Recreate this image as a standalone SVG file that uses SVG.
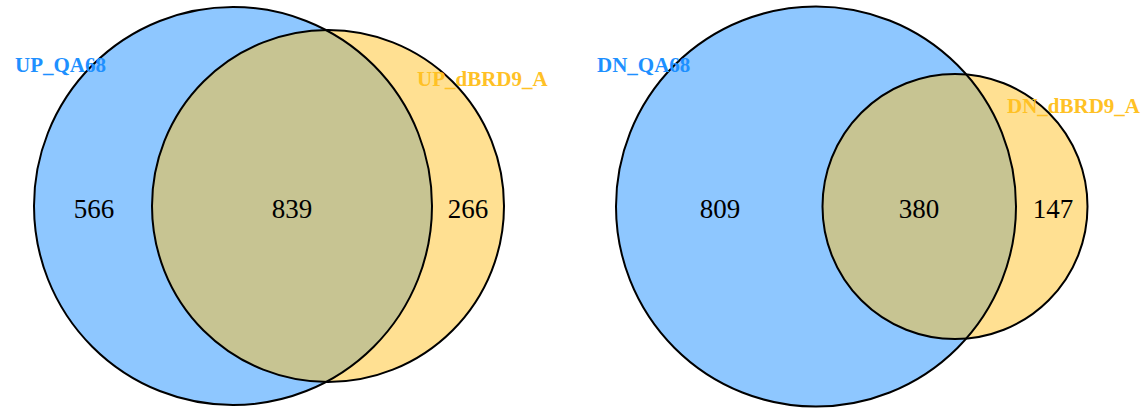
<svg xmlns="http://www.w3.org/2000/svg" width="1145" height="410" viewBox="0 0 1145 410">
<style>
.blue{fill:#1E90FF;fill-opacity:0.5;stroke:none}
.gold{fill:#FFC125;fill-opacity:0.5;stroke:none}
.ring{fill:none;stroke:#000;stroke-width:2}
.num{font-family:"Liberation Serif","Times New Roman",serif;font-size:27px;fill:#000;text-anchor:middle}
.lab{font-family:"Liberation Serif","Times New Roman",serif;font-size:21px;font-weight:bold}
.lb{fill:#1E90FF}
.lg{fill:#FFC125}
</style>
<rect width="1145" height="410" fill="#fff"/>
<g id="venn-up">
  <g id="up-qa68-fill"><circle class="blue" cx="233" cy="206" r="199"/></g>
  <g id="up-dbrd9-fill"><circle class="gold" cx="328" cy="206" r="176"/></g>
  <g id="up-outlines">
    <circle class="ring" cx="233" cy="206" r="199"/>
    <circle class="ring" cx="328" cy="206" r="176"/>
  </g>
  <text class="num" x="94" y="218">566</text>
  <text class="num" x="292" y="218">839</text>
  <text class="num" x="468" y="218">266</text>
  <text class="lab lb" x="15" y="72">UP_QA68</text>
  <text class="lab lg" x="417" y="86">UP_dBRD9_A</text>
</g>
<g id="venn-dn">
  <g id="dn-qa68-fill"><circle class="blue" cx="816" cy="206.5" r="200"/></g>
  <g id="dn-dbrd9-fill"><circle class="gold" cx="955" cy="206.5" r="132.5"/></g>
  <g id="dn-outlines">
    <circle class="ring" cx="816" cy="206.5" r="200"/>
    <circle class="ring" cx="955" cy="206.5" r="132.5"/>
  </g>
  <text class="num" x="720" y="218">809</text>
  <text class="num" x="919" y="218">380</text>
  <text class="num" x="1053" y="218">147</text>
  <text class="lab lb" x="597" y="72">DN_QA68</text>
  <text class="lab lg" x="1007" y="113">DN_dBRD9_A</text>
</g>
<g id="connectors"></g>
</svg>
